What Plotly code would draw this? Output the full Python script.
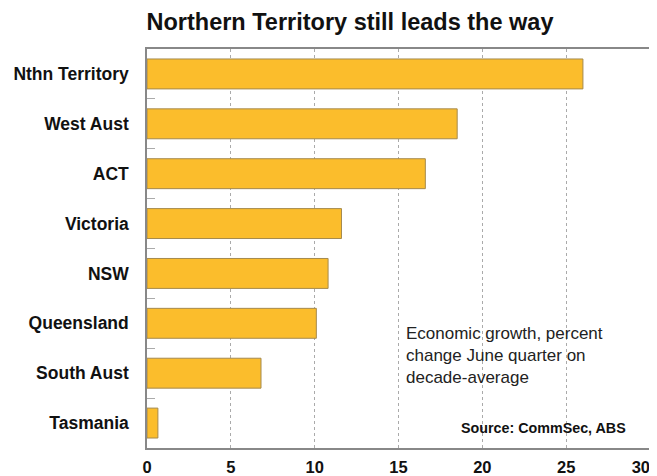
import plotly.graph_objects as go

regions = ["Nthn Territory", "West Aust", "ACT", "Victoria", "NSW",
           "Queensland", "South Aust", "Tasmania"]
growth = [26.0, 18.5, 16.6, 11.6, 10.8, 10.1, 6.8, 0.65]
x_ticks = [0, 5, 10, 15, 20, 25, 30]
x_tick_text = ["<b>0</b>", "<b>5</b>", "<b>10</b>", "<b>15</b>", "<b>20</b>",
               "<b>25</b>", "<b>30</b>&nbsp;&nbsp;&nbsp;&nbsp;"]

FONT = "Liberation Sans, Arial, sans-serif"

# the page body has an 8px default margin, so the figure is 8px smaller
W, H = 649, 468

fig = go.Figure(go.Bar(
    x=growth, y=regions, orientation="h", width=0.6,
    marker=dict(color="#FBBD2C", line=dict(color="#A58A4E", width=1)),
))

fig.update_layout(
    width=W, height=H,
    margin=dict(l=139, r=7, t=41, b=28, autoexpand=False),
    paper_bgcolor="white", plot_bgcolor="white",
    showlegend=False,
    title=dict(text="<b>Northern Territory still leads the way</b>",
               x=342 / W, xanchor="center", y=1 - 14 / H, yanchor="middle",
               xref="container", yref="container",
               font=dict(family=FONT, size=23.5, color="#111")),
    xaxis=dict(range=[0, 30], tickvals=x_ticks, ticktext=x_tick_text, ticks="",
               showgrid=True, gridcolor="#aaaaaa", griddash="dot", gridwidth=1,
               showline=True, linecolor="#888888", linewidth=1.5, mirror=True,
               tickfont=dict(family=FONT, size=16.5, color="#111"),
               ticklabelstandoff=3, ticklabeloverflow="allow",
               zeroline=False, automargin=False),
    yaxis=dict(categoryorder="array", categoryarray=regions, autorange="reversed",
               tickvals=regions, ticktext=["<b>%s</b>" % r for r in regions],
               ticks="inside", tickson="boundaries", ticklen=8, tickcolor="#aaaaaa",
               showline=True, linecolor="#888888", linewidth=1.5, mirror=True,
               showgrid=False, automargin=False,
               tickfont=dict(family=FONT, size=17.5, color="#111"),
               ticklabelstandoff=13),
    font=dict(family=FONT),
)

fig.add_annotation(
    text="Economic growth, percent<br>change June quarter on<br>decade-average",
    xref="x", yref="paper", x=15.3, y=0.315, xanchor="left", yanchor="top",
    align="left", showarrow=False,
    font=dict(family=FONT, size=17, color="#222"))
fig.add_annotation(
    text="<b>Source: CommSec, ABS</b>",
    xref="x", yref="paper", x=28.7, y=0.05, xanchor="right", yanchor="middle",
    showarrow=False, font=dict(family=FONT, size=14.3, color="#111"))

fig.write_html("out.html")
